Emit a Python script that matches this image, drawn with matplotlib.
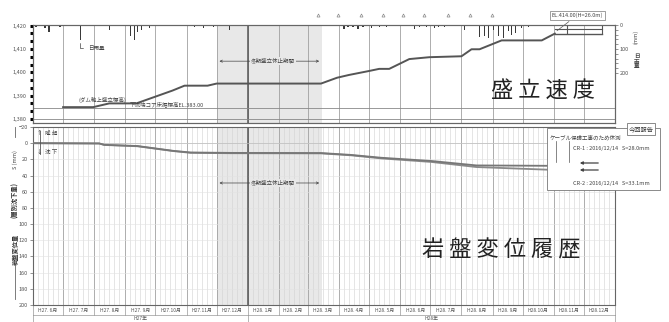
import matplotlib
matplotlib.use('Agg')
import matplotlib.pyplot as plt
import matplotlib.dates as mdates
import matplotlib.ticker as mtick
from matplotlib.patches import Rectangle
from matplotlib.lines import Line2D
import numpy as np

plt.rcParams['font.family'] = ['Noto Sans CJK JP', 'DejaVu Sans']

# ---- data ----
x_start, x_end = '2015-06-01', '2017-01-01'
month_labels = ['H27. 6月', 'H27. 7月', 'H27. 8月', 'H27. 9月', 'H27.10月', 'H27.11月', 'H27.12月',
                'H28. 1月', 'H28. 2月', 'H28. 3月', 'H28. 4月', 'H28. 5月', 'H28. 6月', 'H28. 7月',
                'H28. 8月', 'H28. 9月', 'H28.10月', 'H28.11月', 'H28.12月']
year_labels = ['H27年', 'H28年']
year_bounds = ['2015-06-01', '2016-01-01', '2017-01-01']

fill_dates = ['2015-07-01', '2015-07-31', '2015-08-16', '2015-09-12', '2015-10-18', '2015-10-30',
              '2015-11-22', '2015-12-01', '2016-03-14', '2016-03-30', '2016-04-11', '2016-05-01',
              '2016-05-11', '2016-05-21', '2016-06-10', '2016-06-30', '2016-08-01', '2016-08-11',
              '2016-08-19', '2016-09-10', '2016-10-20', '2016-11-02']
fill_el = [1385.1, 1385.1, 1386.7, 1386.7, 1392.2, 1394.3, 1394.3, 1395.2, 1395.2, 1397.7, 1398.9,
           1400.6, 1401.5, 1401.5, 1405.7, 1406.5, 1406.9, 1409.9, 1409.9, 1413.7, 1413.7, 1416.6]
ref_el = 1384.6
crest_dates = ['2016-11-02', '2016-11-14', '2016-12-19']
crest_low, crest_high = 1416.6, 1418.7

rain_dates = ['2015-06-04', '2015-06-08', '2015-06-13', '2015-06-17', '2015-06-23', '2015-06-28',
              '2015-07-05', '2015-07-18', '2015-08-16', '2015-09-06', '2015-09-10', '2015-09-13',
              '2015-09-17', '2015-09-25', '2015-11-05', '2015-11-09', '2015-11-18', '2015-11-28',
              '2015-12-14', '2016-01-20', '2016-02-23', '2016-04-06', '2016-04-10', '2016-04-15',
              '2016-04-20', '2016-04-25', '2016-05-03', '2016-05-11', '2016-05-18', '2016-06-15',
              '2016-06-20', '2016-06-27', '2016-07-05', '2016-07-09', '2016-07-15', '2016-08-04',
              '2016-08-19', '2016-08-24', '2016-08-28', '2016-09-02', '2016-09-07', '2016-09-12',
              '2016-09-17', '2016-09-20', '2016-09-24', '2016-09-30', '2016-10-07', '2016-10-20',
              '2016-11-19', '2016-11-29']
rain_mm = [8, 5, 12, 28, 6, 10, 6, 62, 20, 45, 62, 30, 22, 12, 6, 8, 12, 8, 22, 4, 4, 18, 10, 8,
           15, 8, 12, 8, 10, 18, 10, 8, 12, 8, 10, 20, 50, 45, 55, 20, 45, 55, 25, 40, 35, 12, 8, 6,
           5, 5]

mark_dates = ['2016-03-11', '2016-03-31', '2016-04-23', '2016-05-15', '2016-06-04', '2016-06-25',
              '2016-07-19', '2016-08-09', '2016-08-31']

cr_dates = ['2015-06-01', '2015-08-06', '2015-08-11', '2015-09-13', '2015-10-19', '2015-11-05',
            '2015-12-15', '2016-03-14', '2016-04-13', '2016-05-13', '2016-07-02', '2016-08-16',
            '2016-11-02']
cr1 = [0.0, 0.3, 2.0, 3.5, 9.5, 11.5, 12.0, 12.2, 14.5, 18.0, 22.0, 27.5, 28.0]
cr2 = [0.0, 0.4, 2.2, 3.8, 9.8, 11.9, 12.4, 12.6, 15.0, 18.8, 23.2, 29.5, 33.1]

winter = ['2015-12-01', '2016-03-15']


def d(s):
    return np.datetime64(s)


def dl(lst):
    return np.array(lst, dtype='datetime64[D]')


W, H = 669, 322
def fx(x): return x / W
def fy(y): return 1 - y / H


frame_c = '#666666'
fig = plt.figure(figsize=(6.69, 3.22), dpi=100)
ax1 = fig.add_axes([fx(33), fy(123), fx(615) - fx(33), fy(25) - fy(123)])
ax2 = fig.add_axes([fx(33), fy(305), fx(615) - fx(33), fy(127) - fy(305)])

for ax in (ax1, ax2):
    ax.set_xlim(d(x_start), d(x_end))
    ax.axvspan(d(winter[0]), d(winter[1]), color='#e8e8e8', lw=0, zorder=0)
    ax.xaxis.set_major_locator(mdates.MonthLocator())
    ax.tick_params(axis='x', which='both', length=0, labelbottom=False)
    ax.grid(which='major', axis='x', color='#a0a0a0', lw=0.6)
    ax.axvline(d('2016-01-01'), color='#555555', lw=1.1)
    for s in ax.spines.values():
        s.set_color(frame_c)
        s.set_linewidth(0.8)
    ax.set_axisbelow(True)

# ---- top panel: embankment height + rainfall ----
ax1.set_ylim(1378.3, 1420.3)
ax1.yaxis.set_major_locator(mtick.MultipleLocator(10))
ax1.yaxis.set_minor_locator(mtick.MultipleLocator(10 / 3))
ax1.yaxis.set_major_formatter(mtick.FuncFormatter(lambda v, p: f'{v:,.0f}'))
ax1.tick_params(axis='y', which='both', direction='out', length=2.5, width=2.2, color='black',
                labelsize=4, labelcolor='#555555', pad=2)
ax1.axhline(ref_el, color='#888888', lw=0.6)
ax1.axhline(1380, color='#888888', lw=0.6)
ax1.plot(dl(fill_dates), fill_el, color='#555555', lw=1.4, zorder=3)
ax1.plot(dl([crest_dates[0], crest_dates[2]]), [crest_low, crest_low], color='#555555', lw=1.0)
ax1.plot(dl([crest_dates[0], crest_dates[2]]), [crest_high, crest_high], color='#555555', lw=0.8)
ax1.vlines(dl(crest_dates[1:]), crest_low, 1420.3, color='#555555', lw=0.8)

ax1.text(d('2015-07-16'), 1388.0, '(ダム軸上盛立標高)', fontsize=4, color='#444444', va='center')
ax1.text(d('2015-09-05'), 1386.1, '下流端コア床掘標高EL.383.00', fontsize=4, color='#444444',
         va='center')
ax1.annotate('', xy=(d(winter[0]), 1404.8), xytext=(d(winter[1]), 1404.8),
             arrowprops=dict(arrowstyle='<->', lw=0.5, color='#444444', mutation_scale=4))
ax1.text(d('2016-01-26'), 1404.8, '冬期盛立休止期間', fontsize=4, color='#444444', ha='center',
         va='center', bbox=dict(fc='#e8e8e8', ec='none', pad=0.8))
ax1.annotate('EL.414.00(H=26.0m)', xy=(d(crest_dates[0]), crest_low + 0.5),
             xytext=(0.935, 1.10), textcoords='axes fraction', fontsize=4, color='#444444',
             ha='center', va='center',
             bbox=dict(boxstyle='square,pad=0.3', fc='white', ec='#777777', lw=0.5),
             arrowprops=dict(arrowstyle='-', lw=0.5, color='#555555'))
ax1.plot(dl(mark_dates), [1.10] * len(mark_dates), transform=ax1.get_xaxis_transform(),
         ls='none', marker='^', ms=2.2, mfc='none', mec='#888888', mew=0.5, clip_on=False)

ax1r = ax1.twinx()
ax1r.set_ylim(408, 0)
ax1r.bar(dl(rain_dates), rain_mm, width=1.3, color='#3a3a3a', align='center')
ax1r.set_yticks([0, 100, 200])
ax1r.set_yticks(np.arange(0, 201, 20), minor=True)
ax1r.tick_params(axis='y', which='both', direction='out', length=2, width=0.5, color=frame_c,
                 labelsize=4, labelcolor='#555555', pad=1.5)
ax1r.tick_params(axis='x', which='both', length=0)
for s in ax1r.spines.values():
    s.set_color(frame_c)
    s.set_linewidth(0.8)
ax1r.annotate('日雨量', xy=(d('2015-07-18'), 62), xytext=(d('2015-07-26'), 96),
              fontsize=4, color='#444444', va='center',
              arrowprops=dict(arrowstyle='-', lw=0.5, color='#444444',
                              connectionstyle='angle,angleA=0,angleB=90,rad=0'))
fig.text(fx(636), fy(37), '(mm)', fontsize=4, rotation=90, color='#444444', ha='center', va='center')
fig.text(fx(637), fy(62), '日\n雨\n量', fontsize=4, color='#444444', ha='center', va='center',
         linespacing=1.0, fontweight='bold')

# ---- bottom panel: rock displacement ----
ax2.set_ylim(200, -20)
ax2.set_yticks(np.arange(-20, 201, 20))
ax2.tick_params(axis='y', direction='out', length=2, width=0.5, color=frame_c, labelsize=4,
                labelcolor='#555555', pad=1.5)
ax2.xaxis.set_minor_locator(mdates.DayLocator(bymonthday=[6, 11, 16, 21, 26]))
ax2.grid(which='minor', axis='x', color='#d2d2d2', lw=0.4)
ax2.grid(which='major', axis='y', color='#e2e2e2', lw=0.4)
ax2.axhline(0, color='#bbbbbb', lw=0.5)
ax2.plot(dl(cr_dates), cr2, color='#8a8a8a', lw=1.3, zorder=3)
ax2.plot(dl(cr_dates), cr1, color='#777777', lw=1.3, zorder=3)
ax2.annotate('', xy=(d(winter[0]), 49.2), xytext=(d(winter[1]), 49.2),
             arrowprops=dict(arrowstyle='<->', lw=0.5, color='#444444', mutation_scale=4))
ax2.text(d('2016-01-26'), 49.2, '冬期盛立休止期間', fontsize=4, color='#444444', ha='center',
         va='center', bbox=dict(fc='#e8e8e8', ec='none', pad=0.8))

# month / year cells under the bottom panel
xt = ax2.get_xaxis_transform()
starts = np.arange('2015-06', '2017-01', dtype='datetime64[M]').astype('datetime64[D]')
edges = np.append(starts, d(x_end))
row = -10 / 178
for i, lab in enumerate(month_labels):
    mid = edges[i] + (edges[i + 1] - edges[i]) / 2
    ax2.text(mid, row / 2, lab, transform=xt, fontsize=3.5, color='#555555', ha='center',
             va='center', clip_on=False)
for e in edges:
    ax2.plot([e, e], [0, row], transform=xt, color='#999999', lw=0.5, clip_on=False)
ax2.plot([d(x_start), d(x_end)], [row, row], transform=xt, color='#999999', lw=0.5, clip_on=False)
for i, lab in enumerate(year_labels):
    a, b = d(year_bounds[i]), d(year_bounds[i + 1])
    ax2.text(a + (b - a) / 2, row - 0.02, lab, transform=xt, fontsize=3.5, color='#555555',
             ha='center', va='center', clip_on=False)
for e in year_bounds:
    ax2.plot([d(e), d(e)], [row, row - 0.05], transform=xt, color='#999999', lw=0.5, clip_on=False)

# uplift / settlement marker
fig.add_artist(Line2D([fx(40), fx(40)], [fy(131), fy(154)], color='#555555', lw=0.6))
fig.text(fx(37), fy(133), '↑  隆 起', fontsize=4, color='#444444', va='center')
fig.text(fx(37), fy(152), '↓  沈 下', fontsize=4, color='#444444', va='center')

# left label of bottom panel
fig.add_artist(Line2D([fx(15), fx(15)], [fy(127), fy(137)], color='#666666', lw=0.6))
fig.add_artist(Line2D([fx(15), fx(15)], [fy(265), fy(299)], color='#666666', lw=0.6))
fig.text(fx(15), fy(160), 'S (mm)', fontsize=4, rotation=90, color='#444444', ha='center', va='center')
fig.text(fx(15), fy(200), '(層別沈下量)', fontsize=4.5, rotation=90, color='#333333', ha='center',
         va='center', fontweight='bold')
fig.text(fx(15), fy(249), '岩盤変位量', fontsize=4.5, rotation=90, color='#333333', ha='center',
         va='center', fontweight='bold')

# report box
fig.add_artist(Rectangle((fx(547), fy(190)), fx(660) - fx(547), fy(128) - fy(190),
                         transform=fig.transFigure, fc='white', ec='#777777', lw=0.6))
fig.text(fx(641), fy(129), '今回報告', fontsize=4.5, color='#333333', ha='center', va='center',
         bbox=dict(boxstyle='square,pad=0.25', fc='white', ec='#777777', lw=0.6))
fig.text(fx(550), fy(138), 'ケーブル保護工事のため休測', fontsize=4, color='#444444', va='center')
fig.text(fx(573), fy(149), 'CR-1 : 2016/12/14   S=28.0mm', fontsize=4, color='#444444', va='center')
fig.text(fx(573), fy(183), 'CR-2 : 2016/12/14   S=33.1mm', fontsize=4, color='#444444', va='center')
for xx in (556, 569):
    fig.add_artist(Line2D([fx(xx), fx(xx)], [fy(141), fy(162)], color='#555555', lw=0.5))
for yy in (163, 170):
    fig.patches.append(matplotlib.patches.FancyArrowPatch(
        (fx(601), fy(yy)), (fx(577), fy(yy)), transform=fig.transFigure,
        arrowstyle='-|>', mutation_scale=4, lw=0.9, color='#444444'))

# big headings
fig.text(fx(543), fy(90), '盛 立 速 度', fontsize=16, color='#222222', ha='center', va='center')
fig.text(fx(501), fy(250), '岩 盤 変 位 履 歴', fontsize=16, color='#222222', ha='center', va='center')

fig.savefig('out.png', dpi=100)
